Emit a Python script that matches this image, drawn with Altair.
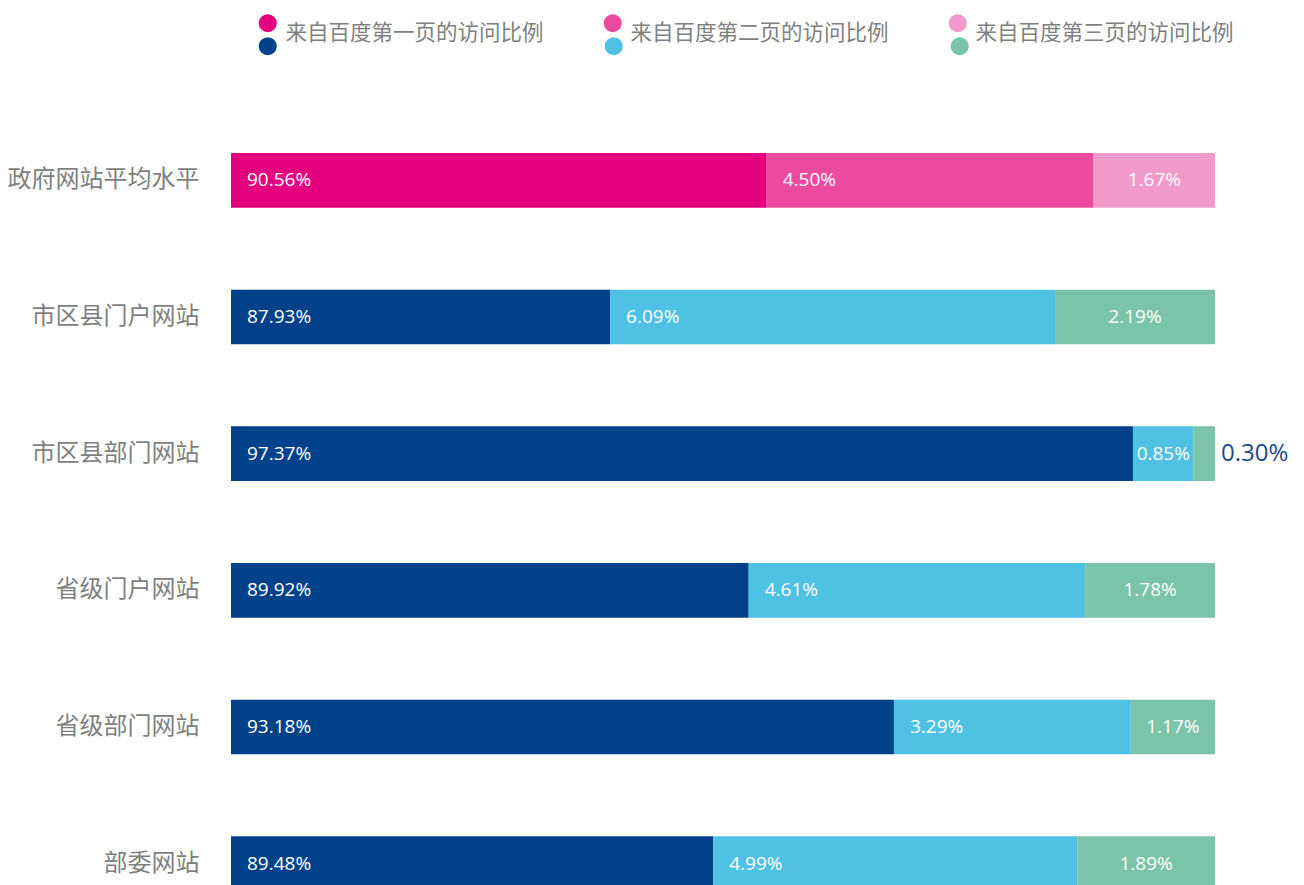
import altair as alt
import pandas as pd

categories = ["政府网站平均水平", "市区县门户网站", "市区县部门网站", "省级门户网站", "省级部门网站", "部委网站"]
series = ["来自百度第一页的访问比例", "来自百度第二页的访问比例", "来自百度第三页的访问比例"]
page1 = [90.56, 87.93, 97.37, 89.92, 93.18, 89.48]
page2 = [4.50, 6.09, 0.85, 4.61, 3.29, 4.99]
page3 = [1.67, 2.19, 0.30, 1.78, 1.17, 1.89]
pink_colors = ["#E4007F", "#EC4A9F", "#F29AC9"]
blue_colors = ["#00428A", "#4FC1E2", "#7BC4A9"]

rows = []
for ci, cat in enumerate(categories):
    for si, vals in enumerate([page1, page2, page3]):
        rows.append({"cat": cat, "series": series[si], "idx": si + 1,
                     "value": vals[ci], "group": "avg" if ci == 0 else "site"})
df = pd.DataFrame(rows)

CJK = "Noto Sans CJK SC"
NUM = "Open Sans"
GREY = "#7F7F7F"

base = alt.Chart(df).transform_joinaggregate(
    total="sum(value)", groupby=["cat"]
).transform_window(
    cum="sum(value)", sort=[alt.SortField("idx")], groupby=["cat"], frame=[None, 0]
).transform_calculate(
    start="(datum.cum - datum.value) / datum.total",
    end="datum.cum / datum.total",
    mid="(datum.cum - datum.value / 2) / datum.total",
    frac="datum.value / datum.total",
    label="format(datum.value, '.2f') + '%'",
)

xscale = alt.Scale(domain=[0.86, 1.0], clamp=True)
yscale = alt.Scale(domain=categories, paddingInner=0.6, paddingOuter=0.3)
yaxis = alt.Axis(domain=False, ticks=False, tickSize=0, labelPadding=32,
                 labelFont=CJK, labelFontSize=24, labelColor=GREY, title=None,
                 labelLimit=400)
Y = alt.Y("cat:N", scale=yscale, axis=yaxis, title=None)

pink_legend = alt.Legend(
    orient="none", legendX=26, legendY=-100, direction="horizontal", columns=3,
    title=None, symbolType="circle", symbolSize=324, symbolStrokeWidth=0,
    symbolOpacity=1, labelFont=CJK, labelFontSize=21.5, labelColor=GREY,
    labelOffset=7, columnPadding=58, padding=0, labelLimit=400,
    labelBaseline="top")

blue_legend = alt.Legend(
    orient="none", legendX=26, legendY=-77, direction="horizontal", columns=3,
    title=None, symbolType="circle", symbolSize=324, symbolStrokeWidth=0,
    symbolOpacity=1, labelFont=CJK, labelFontSize=21.5, labelColor=GREY,
    labelOffset=0, columnPadding=324, padding=0, labelExpr="''")

pink_bars = base.transform_filter("datum.group == 'avg'").mark_bar().encode(
    x=alt.X("start:Q", scale=xscale, axis=None),
    x2="end:Q",
    y=Y,
    color=alt.Color("series:N", scale=alt.Scale(domain=series, range=pink_colors),
                    legend=pink_legend),
)

blue_bars = base.transform_filter("datum.group == 'site'").mark_bar().encode(
    x=alt.X("start:Q", scale=xscale, axis=None),
    x2="end:Q",
    y=Y,
    color=alt.Color("series:N", scale=alt.Scale(domain=series, range=blue_colors),
                    legend=blue_legend),
)

left_labels = base.transform_filter(
    "datum.idx == 1 || (datum.idx == 2 && datum.frac >= 0.01)"
).mark_text(align="left", baseline="middle", dx=16, color="white",
            font=NUM, fontSize=19).encode(
    x=alt.X("start:Q", scale=xscale, axis=None), y=Y, text="label:N")

center_labels = base.transform_filter(
    "(datum.idx == 3 && datum.frac >= 0.01) || (datum.idx == 2 && datum.frac < 0.01)"
).mark_text(align="center", baseline="middle", color="white",
            font=NUM, fontSize=19).encode(
    x=alt.X("mid:Q", scale=xscale, axis=None), y=Y, text="label:N")

outside_labels = base.transform_filter(
    "datum.idx == 3 && datum.frac < 0.01"
).mark_text(align="left", baseline="middle", dx=6, color="#1D4A8C",
            font=NUM, fontSize=24).encode(
    x=alt.X("end:Q", scale=xscale, axis=None), y=Y, text="label:N")

chart = alt.layer(
    pink_bars, blue_bars, left_labels, center_labels, outside_labels
).resolve_scale(color="independent").properties(
    width=984, height=820,
    autosize=alt.AutoSizeParams(type="none"),
    padding={"left": 223, "top": 104, "right": 80, "bottom": 0},
    background="white",
).configure_view(stroke=None)

chart.save("out.html", embed_options={"renderer": "svg", "actions": False})
